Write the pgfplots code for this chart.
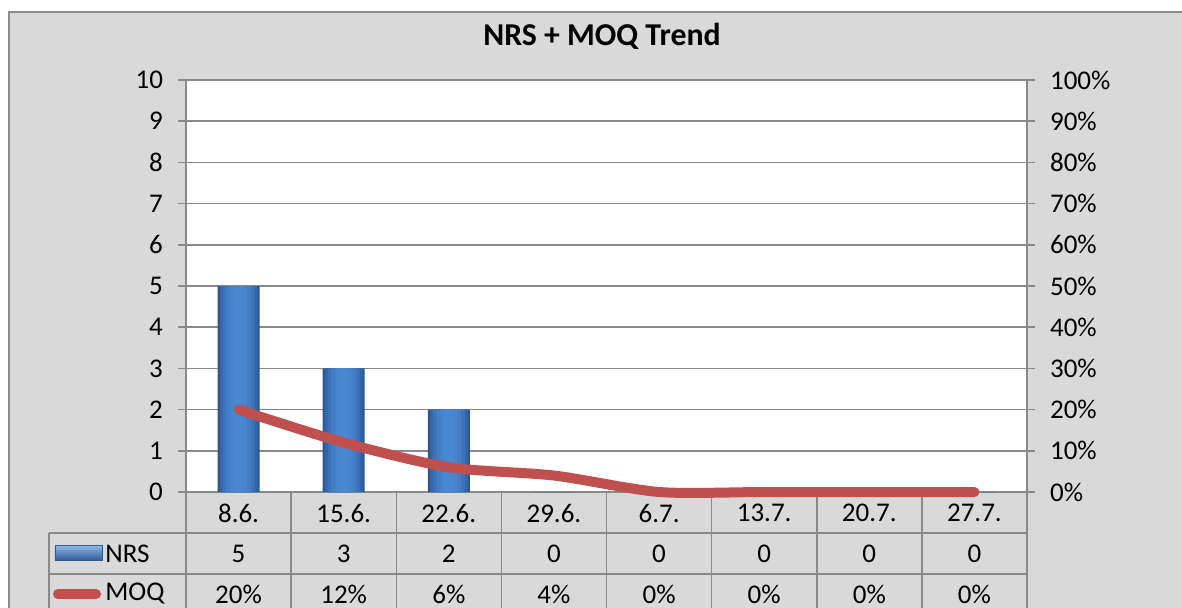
\documentclass[border=0pt]{standalone}
\usepackage{pgfplots}
\pgfplotsset{compat=1.18}
\usepackage{fontspec}
\setmainfont{Carlito}
\definecolor{bgc}{HTML}{D9D9D9}
\definecolor{frame}{HTML}{8C8C8C}
\definecolor{gridc}{HTML}{898989}
\definecolor{barA}{HTML}{2C5690}
\definecolor{barB}{HTML}{3565A4}
\definecolor{barC}{HTML}{3C72B8}
\definecolor{barD}{HTML}{437DC6}
\definecolor{barE}{HTML}{4885CE}
\definecolor{barmid}{HTML}{4B88D2}
\definecolor{baredge}{HTML}{2F5D98}
\definecolor{barline}{HTML}{2E5A92}
\definecolor{moq}{HTML}{C0504D}
\pgfplotstableread{
x nrs moq
0 5 20
1 3 12
2 2 6
3 0 4
4 0 0
5 0 0
6 0 0
7 0 0
}\data
\begin{document}
\begin{tikzpicture}
% background (pixel (x,y) -> ((x-186)/2 pt, (492-y)/2 pt))
\fill[white] (-93pt,-57.5pt) rectangle (498pt,246pt);
\begin{scope}
\clip (-93pt,-57.5pt) rectangle (498pt,246pt);
\fill[bgc] (-88.5pt,-70pt) rectangle (510pt,240pt);
\draw[frame, line width=0.8pt] (-88.5pt,-70pt) -- (-88.5pt,240pt) -- (510pt,240pt);
\end{scope}
\fill[white] (0,0) rectangle (420.5pt,206pt);
\node[font=\fontsize{15.9}{18}\selectfont\bfseries] at (208pt,228pt) {NRS + MOQ Trend};
% data table grid
\foreach \i in {0,...,8} {
  \draw[gridc, line width=0.75pt] (52.5625pt*\i,0) -- (52.5625pt*\i,-60pt);
}
\draw[gridc, line width=0.75pt] (-68.5pt,-20.5pt) -- (420.5pt,-20.5pt);
\draw[gridc, line width=0.75pt] (-68.5pt,-41pt) -- (420.5pt,-41pt);
\draw[gridc, line width=0.75pt] (-68.5pt,-20.5pt) -- (-68.5pt,-60pt);
% table text
\foreach \d [count=\i from 0] in {8.6.,15.6.,22.6.,29.6.,6.7.,13.7.,20.7.,27.7.} {
  \node[font=\fontsize{13.5}{15}\selectfont] at (26.28pt+52.5625pt*\i,-10.5pt) {\d};
}
\foreach \v [count=\i from 0] in {5,3,2,0,0,0,0,0} {
  \node[font=\fontsize{13.5}{15}\selectfont] at (26.28pt+52.5625pt*\i,-30.75pt) {\v};
}
\foreach \v [count=\i from 0] in {20,12,6,4,0,0,0,0} {
  \node[font=\fontsize{13.5}{15}\selectfont] at (26.28pt+52.5625pt*\i,-51pt) {\v\%};
}
% legend keys
\shade[top color=barmid!60!white, bottom color=baredge, draw=barline, line width=0.3pt] (-65.5pt,-26.5pt) rectangle (-42pt,-34pt);
\node[font=\fontsize{13.5}{15}\selectfont, anchor=west, inner sep=0pt] at (-40.5pt,-30.75pt) {NRS};
\draw[moq, line width=5pt, line cap=round] (-64pt,-51pt) -- (-45pt,-51pt);
\node[font=\fontsize{13.5}{15}\selectfont, anchor=west, inner sep=0pt] at (-40.5pt,-51pt) {MOQ};
% left axis with bars
\begin{axis}[
  at={(0,0)}, anchor=south west,
  scale only axis, width=420.5pt, height=206pt,
  xmin=-0.5, xmax=7.5, ymin=0, ymax=10,
  xtick={-0.5,0.5,...,7.5}, xticklabels={},
  major x tick style={draw=none},
  ytick={0,1,...,10},
  ytick pos=left, tick align=outside,
  major tick length=4pt,
  tick style={gridc, line width=0.75pt},
  grid=major,
  major grid style={gridc, line width=0.75pt},
  axis line style={gridc, line width=0.75pt},
  axis x line=none,
  /pgf/number format/assume math mode=true,
  yticklabel style={font=\fontsize{13.5}{15}\selectfont, xshift=-4pt},
  clip=false,
  every axis plot/.append style={ybar, bar shift=0pt, draw=none, mark=none},
]
\draw[gridc, line width=0.75pt] (axis cs:-0.5,0) -- (axis cs:-0.5,10) -- (axis cs:7.5,10) -- (axis cs:7.5,0) -- cycle;
\addplot[fill=barA, bar width=21pt] table[x=x, y=nrs] {\data};
\addplot[fill=barB, bar width=19pt] table[x=x, y=nrs] {\data};
\addplot[fill=barC, bar width=16pt] table[x=x, y=nrs] {\data};
\addplot[fill=barD, bar width=12.5pt] table[x=x, y=nrs] {\data};
\addplot[fill=barE, bar width=8pt] table[x=x, y=nrs] {\data};
\addplot[fill=barmid, bar width=4pt] table[x=x, y=nrs] {\data};
\end{axis}
% right axis with line
\begin{axis}[
  at={(0,0)}, anchor=south west,
  scale only axis, width=420.5pt, height=206pt,
  xmin=-0.5, xmax=7.5, ymin=0, ymax=100,
  axis x line=none,
  axis y line*=right,
  ytick={0,10,...,100},
  tick align=outside,
  major tick length=4pt,
  tick style={gridc, line width=0.75pt},
  axis line style={gridc, line width=0.75pt},
  /pgf/number format/assume math mode=true,
  yticklabel={\pgfmathprintnumber{\tick}\%},
  yticklabel style={font=\fontsize{13.5}{15}\selectfont, xshift=4pt},
  clip=false,
]
\addplot[moq, line width=5pt, smooth, tension=0.45, line cap=round, line join=round, mark=none]
  table[x=x, y=moq] {\data};
\end{axis}
\pgfresetboundingbox
\path[use as bounding box] (-93pt,-57.5pt) rectangle (498pt,246pt);
\end{tikzpicture}
\end{document}
